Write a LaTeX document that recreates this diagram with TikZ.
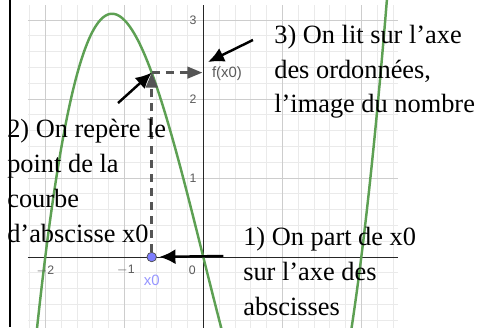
\documentclass[tikz,border=0pt]{standalone}
\usepackage{fontspec}
\setmainfont{Liberation Serif}
\newfontfamily\ggbfont{Liberation Sans}
\usetikzlibrary{arrows.meta,positioning}
\definecolor{ggbgreen}{RGB}{93,160,83}
\definecolor{ggbpoint}{RGB}{125,125,255}
\definecolor{ggblabel}{RGB}{150,150,255}
\definecolor{ggbdash}{RGB}{85,85,85}
\definecolor{ggbtext}{RGB}{90,90,90}
\definecolor{minorgray}{RGB}{234,234,234}
\definecolor{majorgray}{RGB}{205,205,205}
\tikzset{
  note/.style={align=left, anchor=base west, inner sep=0pt,
    font=\fontsize{15}{19.9}\selectfont},
  ticklab/.style={font=\ggbfont\fontsize{7}{8}\selectfont, text=ggbtext, inner sep=0pt},
  minorgrid/.style={draw=minorgray, line width=0.4pt},
  majorgrid/.style={draw=majorgray, line width=0.5pt},
  axis/.style={draw=black!85, line width=0.5pt},
  curve/.style={draw=ggbgreen, line width=1.4pt},
  ptstyle/.style={circle, fill=ggbpoint, draw=black!70, line width=0.4pt,
    minimum size=0.19cm, inner sep=0pt},
  dashline/.style={draw=ggbdash, line width=1.5pt, dash pattern=on 4.5pt off 3.5pt,
    -{Triangle[length=3mm,width=2.3mm]}},
  arrow/.style={-{Latex[length=3.2mm,width=3mm]}, line width=1.4pt, draw=black}
}
\begin{document}
\begin{tikzpicture}[x=1.58cm, y=1.58cm]
  \useasboundingbox (-2.573,-0.886) rectangle (3.477,3.253);
  \begin{scope}
    \clip (-2.573,-0.886) rectangle (3.477,3.253);
    \draw[minorgrid] (-2.22,-0.9) grid[step=0.2] (2.46,3.19);
    \draw[majorgrid] (-2.22,-0.9) grid[step=1] (2.46,3.19);
    \draw[axis] (-2.22,0) -- (2.46,0);
    \draw[axis] (0,-0.9) -- (0,3.19);
    \draw[curve] plot[domain=-2.15:2.36, samples=160, smooth] (\x, {\x*\x*\x-4*\x});
  \end{scope}
  \draw[line width=1.2pt] (-2.447,-0.886) -- (-2.447,3.253);
  \node[ticklab] (t3) at (-0.13,3) {3};
  \node[ticklab] (t2) at (-0.13,2) {2};
  \node[ticklab] (t1) at (-0.13,1) {1};
  \node[ticklab] (tm2) at (-2,-0.17) {$-$2};
  \node[ticklab] (tm1) at (-0.98,-0.17) {$-$1};
  \node[ticklab] (t0) at (-0.14,-0.17) {0};
  \node[ptstyle] (x0pt) at (-0.653,0) {};
  \coordinate (img) at (-0.653,2.334);
  \coordinate (fpt) at (0,2.334);
  \node[font=\ggbfont\fontsize{8.5}{10}\selectfont, text=ggblabel, inner sep=0pt,
    below=0.25cm of x0pt] (x0lab) {x0};
  \node[font=\ggbfont\fontsize{8.5}{10}\selectfont, text=ggbtext, inner sep=0pt,
    anchor=west] (flab) at (0.106,2.323) {f(x0)};
  \draw[dashline] (x0pt) -- (img);
  \draw[dashline] (img) -- ([xshift=-0.5pt]fpt);
  \node[note] (step2) at (-2.485,0.19) {2) On repère le\\point de la\\courbe\\d’abscisse x0};
  \node[note] (step3) at (0.895,1.823) {3) On lit sur l’axe\\des ordonnées,\\l’image du nombre};
  \node[note] (step1) at (0.502,-0.734) {1) On part de x0\\sur l’axe des\\abscisses};
  \coordinate (tail1) at (0.253,0.013);
  \coordinate (tail2) at (-1.079,1.949);
  \coordinate (tail3) at (0.629,2.747);
  \coordinate (tip3) at (0.06,2.468);
  \draw[arrow, shorten >=1.5pt] (tail1) -- (x0pt);
  \draw[arrow] (tail2) -- (img);
  \draw[arrow] (tail3) -- (tip3);
\end{tikzpicture}
\end{document}
